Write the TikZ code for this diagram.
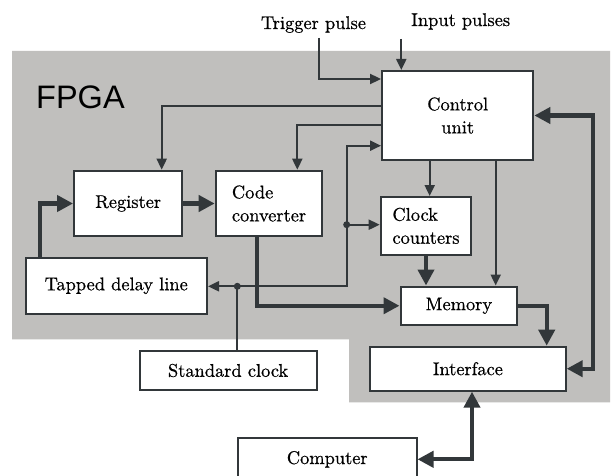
\documentclass[tikz,border=0pt]{standalone}
\usepackage{fontspec}
\newfontfamily\fpgafont{Liberation Sans}
\newfontfamily\boxfont{lmroman10-regular.otf}[FakeBold=0.6]
\usetikzlibrary{arrows.meta}
\definecolor{ink}{RGB}{50,55,58}
\definecolor{fpgagray}{RGB}{192,191,189}
\tikzset{
  blk/.style={draw=ink, line width=2pt, fill=white, inner sep=0pt, align=center,
    font=\boxfont\fontsize{18.4}{23}\selectfont},
  lbl/.style={inner sep=0pt, anchor=base, font=\boxfont\fontsize{18.4}{23}\selectfont},
  sig/.style={draw=ink, line width=2pt, -{Triangle[length=11pt,width=10pt]}},
  wire/.style={draw=ink, line width=2pt},
  bus/.style={draw=ink, line width=4.3pt, -{Triangle[length=16pt,width=16pt]}},
  bibus/.style={draw=ink, line width=4.3pt,
    {Triangle[length=16pt,width=16pt]}-{Triangle[length=16pt,width=16pt]}},
  jdot/.style={circle, fill=ink, inner sep=0pt, minimum size=7pt},
}
\begin{document}
\begin{tikzpicture}[x=1pt,y=-1pt]
\clip (0,0) rectangle (613,476);
\fill[white] (0,0) rectangle (613,476);

% FPGA area
\fill[fpgagray] (12,51) -- (610,51) -- (610,402.3) -- (349,402.3)
  -- (349,339.3) -- (12,339.3) -- cycle;
\node[anchor=base west, inner sep=0pt, font=\fpgafont\fontsize{32.5}{36}\selectfont]
  (fpga) at (36,109) {FPGA};

% external inputs
\node[lbl] (trig) at (313.5,29) {Trigger pulse};
\node[lbl] (inp) at (460.7,26) {Input pulses};

% blocks
\node[blk, minimum width=151.3pt, minimum height=89pt] (ctrl) at (457.7,115.5) {Control\\unit};
\node[blk, minimum width=108.3pt, minimum height=65.6pt] (reg) at (128.2,203.5) {Register};
\node[blk, align=left, minimum width=106.6pt, minimum height=65.6pt] (code) at (269,203.5) {Code\\converter};
\node[blk, align=left, minimum width=90.6pt, minimum height=57.7pt] (clk) at (426,225.85) {Clock\\counters};
\node[blk, minimum width=181.5pt, minimum height=56.5pt] (tdl) at (116.25,285.75) {Tapped delay line};
\node[blk, minimum width=116.8pt, minimum height=38.5pt] (mem) at (458.9,305.75) {Memory};
\node[blk, minimum width=195.7pt, minimum height=44pt] (ifc) at (467.85,368.7) {Interface};
\node[blk, minimum width=177.2pt, minimum height=39pt] (sclk) at (228.1,370.5) {Standard clock};
\node[blk, minimum width=178.5pt, minimum height=42.6pt] (pc) at (327.25,459.3) {Computer};

% routing guides
\coordinate (trigtop) at (319,38);
\coordinate (intop) at (401.3,39);
\coordinate (ytrig) at (0,79);
\coordinate (yreg) at (0,106);
\coordinate (ycode) at (0,125);
\coordinate (yfb) at (0,145.7);
\coordinate (xreg) at (161.7,0);
\coordinate (xcode) at (297.3,0);
\coordinate (xck) at (429.7,0);
\coordinate (xmem) at (495.7,0);
\coordinate (xbus) at (593.3,0);
\coordinate (xmi) at (546.7,0);
\coordinate (xtd) at (40,0);
\coordinate (xcv) at (257.3,0);
\coordinate (xsc) at (237.3,0);
\coordinate (xpc) at (472,0);
\coordinate (j1) at (237.3,286.3);
\coordinate (j2) at (346.7,224.7);
\coordinate (j3) at (346.7,286.3);

% control signals
\draw[sig] (trigtop) |- (ctrl.west |- ytrig);
\draw[sig] (intop) -- (ctrl.north -| intop);
\draw[sig] (ctrl.west |- yreg) -| (reg.north -| xreg);
\draw[sig] (ctrl.west |- ycode) -| (code.north -| xcode);
\draw[sig] (ctrl.south -| xck) -- (clk.north -| xck);
\draw[sig] (ctrl.south -| xmem) -- (mem.north -| xmem);

% standard clock distribution
\draw[wire] (sclk.north -| xsc) -- (j1);
\draw[sig] (j1) -- (j1 -| tdl.east);
\draw[wire] (j1) -- (j3) -- (j2);
\draw[sig] (j2) -- (j2 -| clk.west);
\draw[sig] (j2) |- (ctrl.west |- yfb);
\node[jdot] at (j1) {};
\node[jdot] at (j2) {};

% data paths
\draw[bus] (tdl.north -| xtd) |- (reg.west);
\draw[bus] (reg.east) -- (code.west);
\draw[bus] (code.south -| xcv) |- (mem.west);
\draw[bus] (clk.south) -- (clk.south |- mem.north);
\draw[bus] (mem.east) -| (ifc.north -| xmi);
\draw[bibus] (ctrl.east) -| (xbus |- ifc.east) -- (ifc.east);
\draw[bibus] (ifc.south -| xpc) |- (pc.east);
\end{tikzpicture}
\end{document}
